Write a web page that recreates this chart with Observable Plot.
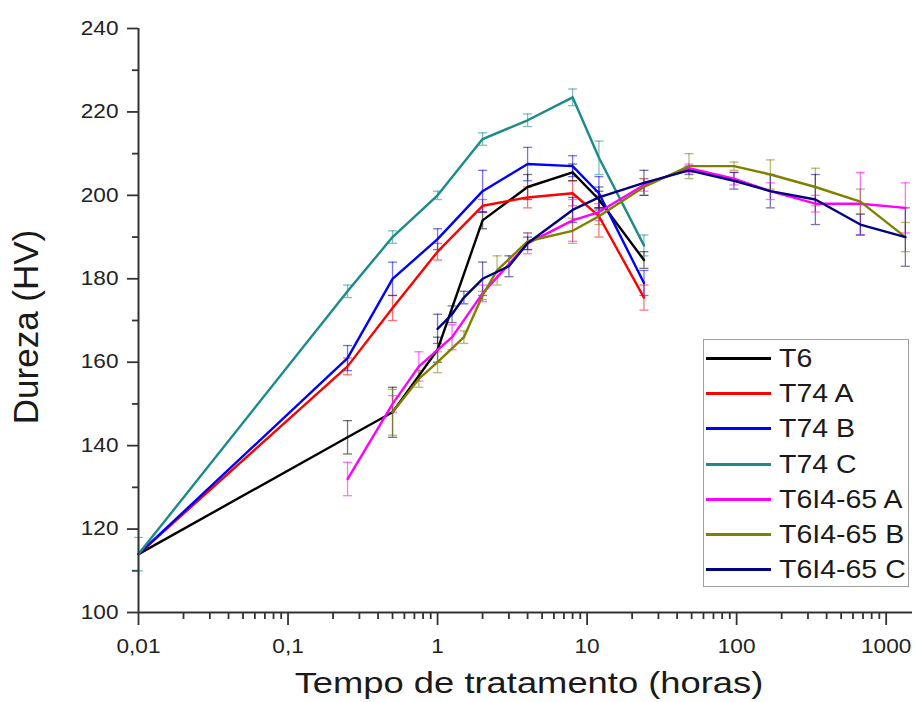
<!DOCTYPE html>
<html>
<head>
<meta charset="utf-8">
<script src="https://cdn.jsdelivr.net/npm/d3@7"></script>
<script src="https://cdn.jsdelivr.net/npm/@observablehq/plot@0.6"></script>
<style>
  body { margin: 0; background: #fff; }
  #chart { position: relative; width: 915px; height: 702px; font-family: "Liberation Sans", Arial, sans-serif; }
  #legend { position: absolute; left: 703px; top: 339px; width: 204px; height: 246px; border: 1.5px solid #a0a0a0; background: #fff; box-sizing: content-box; }
  .lg-row { position: absolute; left: 0; height: 30px; width: 100%; }
  .lg-line { position: absolute; left: 2px; width: 65px; top: 14px; height: 3px; }
  .lg-text { position: absolute; left: 75px; top: 0; font-size: 25px; line-height: 30px; color: #1a1a1a; transform: scaleX(1.14); transform-origin: left center; white-space: nowrap; }
</style>
</head>
<body>
<div id="chart"></div>
<script>
// ---- data ----
const seriesNames = ["T6", "T74 A", "T74 B", "T74 C", "T6I4-65 A", "T6I4-65 B", "T6I4-65 C"];
const seriesColors = ["#000000", "#ff0000", "#0000ff", "#1a8a8a", "#ff00ff", "#808000", "#000080"];

const t_T6 = [0.01, 0.25, 0.5, 1, 2, 4, 8, 12, 24];
const v_T6 = [114, 142, 148, 163, 194, 202, 205.5, 199, 184.5];
const e_T6 = [0, 4, 6, 3, 2, 3, 2, 2, 2];

const t_T74A = [0.01, 0.25, 0.5, 1, 2, 4, 8, 12, 24];
const v_T74A = [114, 159, 173, 186.5, 197.5, 199.5, 200.5, 195, 175.5];
const e_T74A = [0, 2, 3, 2, 1.5, 2.5, 3, 5, 3];

const t_T74B = [0.01, 0.25, 0.5, 1, 2, 4, 8, 12, 24];
const v_T74B = [114, 161, 180, 189.5, 201, 207.5, 207, 200.5, 179];
const e_T74B = [0, 3, 4, 2.5, 5, 4, 2.5, 4, 3];

const t_T74C = [0.01, 0.25, 0.5, 1, 2, 4, 8, 12, 24];
const v_T74C = [114, 177, 190, 200, 213.5, 218, 223.5, 209, 188];
const e_T74C = [4, 1.5, 1.5, 1, 1.5, 1.5, 2, 4, 2.5];

const t_T6I4A = [0.25, 0.5, 0.75, 1.25, 2, 4, 8, 12, 24, 48, 96, 168, 336, 672, 1344];
const v_T6I4A = [132, 150, 159, 166, 176.5, 188.5, 194, 196, 202.5, 206.5, 204, 201, 198, 198, 197];
const e_T6I4A = [4, 2, 3.5, 3, 2, 2.5, 5, 2, 1.5, 1, 1.5, 2, 2, 7.5, 6];

const t_T6I4B = [0.5, 0.75, 1, 1.5, 2, 2.5, 4, 8, 12, 24, 48, 96, 168, 336, 672, 1344];
const v_T6I4B = [148, 156, 160, 166, 176, 182, 189, 191.5, 195, 202, 207, 207, 205, 202, 198.5, 190];
const e_T6I4B = [5.5, 2, 2.5, 1.5, 1, 3.5, 2, 3, 2, 2, 3, 1, 3.5, 4.5, 3, 3.5];

const t_T6I4C = [1, 1.25, 1.5, 2, 3, 4, 8, 12, 24, 48, 96, 168, 336, 672, 1344];
const v_T6I4C = [168, 171.5, 175.5, 180, 183, 188.5, 196.5, 199.5, 203, 206, 203.5, 201, 199, 193, 190];
const e_T6I4C = [3.5, 2, 1.5, 4, 2.5, 1.5, 3, 2.5, 3, 1, 2, 4, 6, 2.5, 7];

const xTickValues = [0.01, 0.1, 1, 10, 100, 1000];
const xTickLabels = ["0,01", "0,1", "1", "10", "100", "1000"];
const yTickValues = [100, 120, 140, 160, 180, 200, 220, 240];
const yMinorTicks = [110, 130, 150, 170, 190, 210, 230];

// ---- build table ----
const tables = [
  [t_T6, v_T6, e_T6], [t_T74A, v_T74A, e_T74A], [t_T74B, v_T74B, e_T74B], [t_T74C, v_T74C, e_T74C],
  [t_T6I4A, v_T6I4A, e_T6I4A], [t_T6I4B, v_T6I4B, e_T6I4B], [t_T6I4C, v_T6I4C, e_T6I4C]
];
const rows = [];
tables.forEach(([ts, vs, es], i) => ts.forEach((t, j) => rows.push({series: seriesNames[i], t, v: vs[j], e: es[j]})));
const errRows = rows.filter(d => d.e > 0);

const xMinor = [];
[0.01, 0.1, 1, 10, 100, 1000].forEach(b => { for (let k = 2; k <= 9; k++) if (b * k <= 1500) xMinor.push(b * k); });

const cap = { draw(ctx) { ctx.moveTo(-4.5, 0); ctx.lineTo(4.5, 0); } };

const plot = Plot.plot({
  width: 915,
  height: 702,
  marginLeft: 138,
  marginRight: 3,
  marginTop: 28,
  marginBottom: 90,
  style: { fontFamily: "'Liberation Sans', Arial, sans-serif", fontSize: "19.5px", color: "#222", background: "transparent" },
  x: { type: "log", domain: [0.01, 1500], axis: null },
  y: { domain: [100, 240], axis: null },
  color: { domain: seriesNames, range: seriesColors },
  marks: [
    Plot.axisY(yTickValues, { tickSize: 11, tickPadding: 9, strokeWidth: 1.8, stroke: "#333", fontSize: 19.5, tickFormat: d => String(d), label: null }),
    Plot.axisY(yMinorTicks, { tickSize: 6, strokeWidth: 1.8, stroke: "#333", tickFormat: () => "", label: null }),
    Plot.axisX(xTickValues, { tickSize: 13, tickPadding: 14, strokeWidth: 1.8, stroke: "#333", fontSize: 19.5, tickFormat: d => xTickLabels[xTickValues.indexOf(d)], label: null }),
    Plot.axisX(xMinor, { tickSize: 7, strokeWidth: 1.8, stroke: "#333", tickFormat: () => "", label: null }),
    Plot.ruleX(errRows, { x: "t", y1: d => d.v - d.e, y2: d => d.v + d.e, stroke: "series", strokeOpacity: 0.55, strokeWidth: 1.3 }),
    Plot.dot(errRows, { x: "t", y: d => d.v + d.e, symbol: cap, stroke: "series", strokeOpacity: 0.55, strokeWidth: 1.3, fill: "none" }),
    Plot.dot(errRows, { x: "t", y: d => d.v - d.e, symbol: cap, stroke: "series", strokeOpacity: 0.55, strokeWidth: 1.3, fill: "none" }),
    Plot.line(rows, { x: "t", y: "v", z: "series", stroke: "series", strokeWidth: 2.4 }),
    Plot.ruleX([0.01], { stroke: "#333", strokeWidth: 2 }),
    Plot.ruleY([100], { stroke: "#333", strokeWidth: 2 })
  ]
});

const chart = document.getElementById("chart");
chart.appendChild(plot);

// stretch tick labels horizontally (about their anchor) like the reference
plot.querySelectorAll("text").forEach(t => {
  if (!t.textContent) return;
  const bb = t.getBBox();
  const anchor = getComputedStyle(t).textAnchor;
  const ax = anchor === "end" ? bb.x + bb.width : anchor === "middle" ? bb.x + bb.width / 2 : bb.x;
  const ay = bb.y + bb.height / 2;
  const tr = t.getAttribute("transform") || "";
  t.setAttribute("transform", `${tr} translate(${ax},${ay}) scale(1.16,1) translate(${-ax},${-ay})`);
});

// axis titles
const svg = d3.select(plot);
svg.append("text")
  .attr("transform", "translate(529,693) scale(1.2,1)")
  .attr("text-anchor", "middle")
  .attr("font-size", 30.3)
  .attr("fill", "#1a1a1a")
  .text("Tempo de tratamento (horas)");
svg.append("text")
  .attr("transform", "translate(38,327) rotate(-90)")
  .attr("text-anchor", "middle")
  .attr("font-size", 35)
  .attr("fill", "#1a1a1a")
  .text("Dureza (HV)");

// legend
const legend = document.createElement("div");
legend.id = "legend";
seriesNames.forEach((name, i) => {
  const row = document.createElement("div");
  row.className = "lg-row";
  row.style.top = (3 + i * 35.2) + "px";
  const line = document.createElement("div");
  line.className = "lg-line";
  line.style.background = seriesColors[i];
  const txt = document.createElement("div");
  txt.className = "lg-text";
  txt.textContent = name;
  row.appendChild(line); row.appendChild(txt);
  legend.appendChild(row);
});
chart.appendChild(legend);
</script>
</body>
</html>
